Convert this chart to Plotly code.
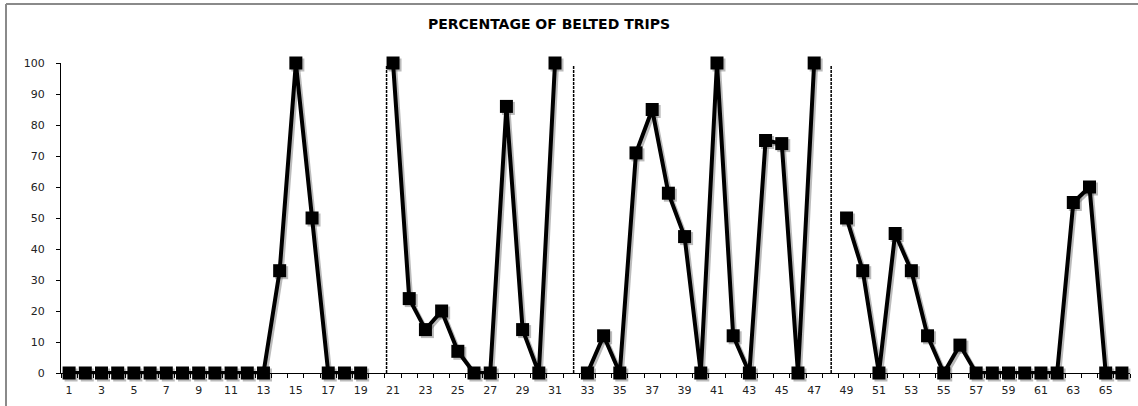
import plotly.graph_objects as go

trips = list(range(1, 67))
belted_pct = [0, 0, 0, 0, 0, 0, 0, 0, 0, 0, 0, 0, 0, 33, 100, 50, 0, 0, 0, None,
              100, 24, 14, 20, 7, 0, 0, 86, 14, 0, 100, None,
              0, 12, 0, 71, 85, 58, 44, 0, 100, 12, 0, 75, 74, 0, 100, None,
              50, 33, 0, 45, 33, 12, 0, 9, 0, 0, 0, 0, 0, 0, 55, 60, 0, 0]
x_tick_labels = [str(v) for v in range(1, 67, 2)]
x_tick_vals = list(range(1, 67, 2))
separators = [20.6, 32.15, 48.05]
title_text = "PERCENTAGE OF BELTED TRIPS"

W, H = 1138, 406
L, R, T, B = 61, 6, 63, 31
pw, ph = W - L - R, H - T - B
dx, dy = 2 / pw, 2 / ph
FONT = "DejaVu Sans"

fig = go.Figure()
# shadow trace (subplot xy, shifted)
fig.add_trace(go.Scatter(
    x=trips, y=belted_pct, mode="lines+markers", connectgaps=False,
    line=dict(color="rgba(120,120,120,0.5)", width=4),
    marker=dict(symbol="square", size=13, color="rgba(120,120,120,0.5)"),
    cliponaxis=False, hoverinfo="skip", showlegend=False,
    xaxis="x", yaxis="y"))
# main trace
fig.add_trace(go.Scatter(
    x=trips, y=belted_pct, mode="lines+markers", connectgaps=False,
    line=dict(color="black", width=4),
    marker=dict(symbol="square", size=13, color="black"),
    cliponaxis=False, showlegend=False,
    xaxis="x2", yaxis="y2"))

shapes = []
for s in separators:
    shapes.append(dict(type="line", xref="x2", yref="y2", x0=s, x1=s, y0=0, y1=99,
                       line=dict(color="black", width=1.5, dash="3px,1px")))
# outer border (top and left)
bx = (6 - L) / pw
by = 1 + (T - 4) / ph
shapes.append(dict(type="line", xref="paper", yref="paper", x0=bx, x1=(W - L) / pw + 0.01,
                   y0=by, y1=by, line=dict(color="#8a8a8a", width=2)))
shapes.append(dict(type="line", xref="paper", yref="paper", x0=bx, x1=bx,
                   y0=by, y1=-(B + 5) / ph, line=dict(color="#8a8a8a", width=2)))

hidden = dict(visible=False, showgrid=False, zeroline=False)
fig.update_layout(
    width=W, height=H,
    margin=dict(l=L, r=R, t=T, b=B),
    paper_bgcolor="white", plot_bgcolor="rgba(0,0,0,0)",
    font=dict(family=FONT, size=11, color="#222"),
    title=dict(text="<b>" + title_text + "</b>", x=(549 - L) / pw, xref="paper",
               xanchor="center", y=1 - 24 / H, yanchor="middle",
               font=dict(family=FONT, size=14, color="black")),
    xaxis=dict(domain=[dx, 1], range=[0.5, 66.5], anchor="y", **hidden),
    yaxis=dict(domain=[0, 1 - dy], range=[0, 100], anchor="x", **hidden),
    xaxis2=dict(domain=[0, 1 - dx], range=[0.5, 66.5], anchor="y2",
                showgrid=False, zeroline=False, showline=True, linecolor="black", linewidth=1,
                tickvals=x_tick_vals, ticktext=x_tick_labels, ticks="",
                ticklabelstandoff=7,
                minor=dict(ticks="outside", tick0=0.5, dtick=1, ticklen=4,
                           tickcolor="black", showgrid=False),
                tickfont=dict(family=FONT, size=11, color="#222")),
    yaxis2=dict(domain=[dy, 1], range=[0, 100], anchor="x2",
                showgrid=False, zeroline=False, showline=True, linecolor="black", linewidth=1,
                tickvals=list(range(0, 101, 10)), ticks="outside", ticklen=4,
                ticklabelstandoff=9,
                tickcolor="black", tickfont=dict(family=FONT, size=11, color="#222")),
    shapes=shapes,
)
css_fix = (
    "var s=document.createElement('style');"
    "s.textContent='html,body{margin:0;padding:0;overflow:hidden;}"
    "::-webkit-scrollbar{display:none;width:0;height:0;}"
    ".plotly-graph-div{display:block;}';"
    "document.head.appendChild(s);"
)
fig.write_html("out.html", post_script=css_fix, config={"displayModeBar": False})
